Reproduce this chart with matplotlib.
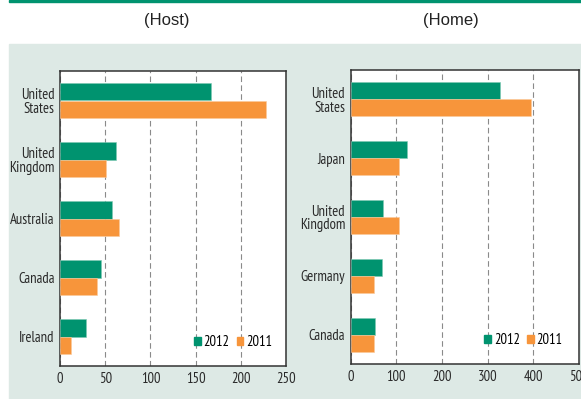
import matplotlib.pyplot as plt
from matplotlib.patches import Rectangle, Patch

GREEN = "#00936f"
ORANGE = "#f7953b"
PANEL = "#dde9e5"
NARROW = ["PT Sans Narrow", "Roboto Condensed", "DejaVu Sans"]

# Host economies
host_countries = ["United\nStates", "United\nKingdom", "Australia", "Canada", "Ireland"]
host_2012 = [167, 62, 57, 45, 29]
host_2011 = [228, 51, 65, 41, 12]
host_ticks = [0, 50, 100, 150, 200, 250]

# Home economies
home_countries = ["United\nStates", "Japan", "United\nKingdom", "Germany", "Canada"]
home_2012 = [328, 123, 71, 68, 54]
home_2011 = [395, 107, 107, 52, 52]
home_ticks = [0, 100, 200, 300, 400, 500]

years = ["2012", "2011"]


def draw_panel(ax, countries, v2012, v2011, ticks, legend_anchor):
    pos = list(range(len(countries)))
    h = 0.29
    ax.barh([p - h / 2 for p in pos], v2012, height=h, color=GREEN,
            edgecolor="#7fc9b4", linewidth=0.4, zorder=3)
    ax.barh([p + h / 2 for p in pos], v2011, height=h, color=ORANGE,
            edgecolor="#fbc99b", linewidth=0.4, zorder=3)
    ax.set_ylim(len(countries) - 0.5, -0.5)
    ax.set_xlim(ticks[0], ticks[-1])
    ax.set_yticks(pos)
    ax.set_yticklabels(countries, family=NARROW, fontsize=10.5, color="#2a2a2a",
                       linespacing=1.0)
    ax.set_xticks(ticks)
    ax.set_xticklabels([str(t) for t in ticks], family=NARROW, fontsize=10.5,
                       color="#2a2a2a")
    ax.tick_params(axis="both", length=0)
    ax.tick_params(axis="y", pad=4)
    ax.tick_params(axis="x", pad=4)
    ax.grid(axis="x", color="#8a8a8a", linestyle=(0, (5, 3)), linewidth=0.8,
            zorder=1)
    ax.set_axisbelow(True)
    ax.set_facecolor("white")
    for s in ax.spines.values():
        s.set_color("#333333")
        s.set_linewidth(1.1)
    handles = [Patch(color=GREEN, label=years[0]),
               Patch(color=ORANGE, label=years[1])]
    ax.legend(handles=handles, loc="center right", bbox_to_anchor=legend_anchor,
              ncol=2, frameon=False, handlelength=0.45, handleheight=0.45,
              handletextpad=0.2, columnspacing=0.5, borderaxespad=0,
              prop={"family": NARROW, "size": 10.5})


fig = plt.figure(figsize=(5.81, 3.99), dpi=100)
fig.patches.append(Rectangle((9 / 581, 0), 1 - 9 / 581, 1 - 44 / 399,
                             transform=fig.transFigure, color=PANEL, zorder=-10))
fig.patches.append(Rectangle((9 / 581, 1 - 2 / 399), 1 - 9 / 581, 2 / 399,
                             transform=fig.transFigure, color=GREEN, zorder=-10))

ax1 = fig.add_axes([60 / 581, 1 - 366 / 399, 226 / 581, 295 / 399])
ax2 = fig.add_axes([350.7 / 581, 1 - 364 / 399, 228 / 581, 294 / 399])
ax1.set_zorder(1)
ax2.set_zorder(1)

draw_panel(ax1, host_countries, host_2012, host_2011, host_ticks, (0.965, 0.08))
draw_panel(ax2, home_countries, home_2012, home_2011, home_ticks, (0.955, 0.08))

fig.text(166.5 / 581, 1 - 21 / 399, "(Host)", ha="center", va="center",
         family="Liberation Sans", fontsize=12, color="#222222")
fig.text(451 / 581, 1 - 21 / 399, "(Home)", ha="center", va="center",
         family="Liberation Sans", fontsize=12, color="#222222")

fig.savefig("out.png", dpi=100)
